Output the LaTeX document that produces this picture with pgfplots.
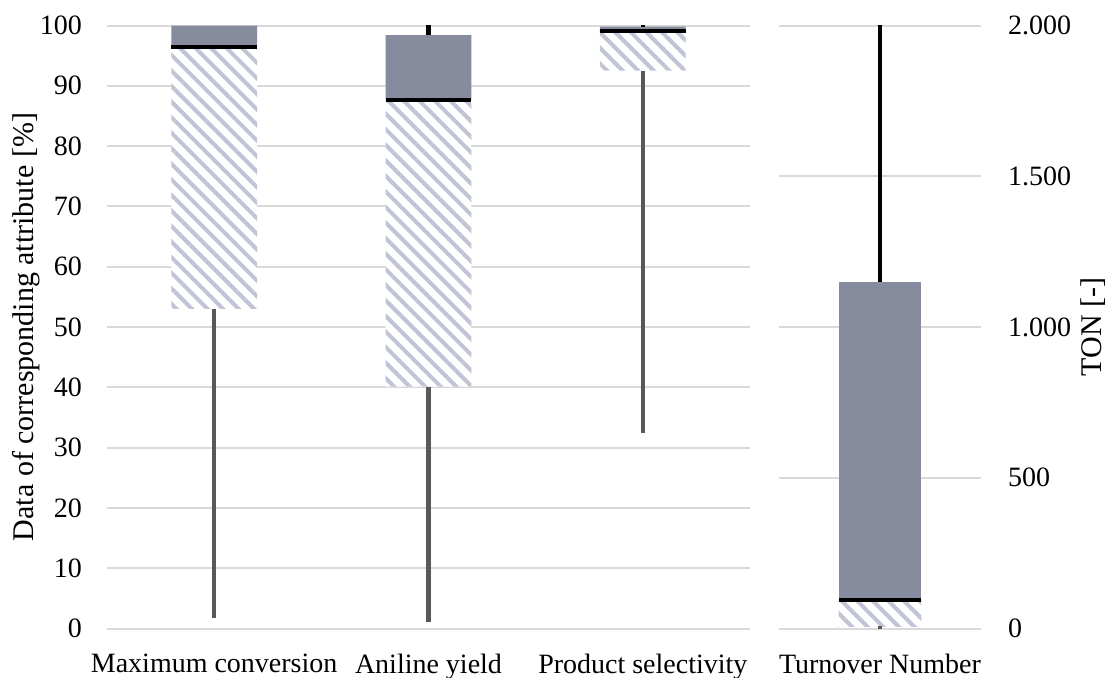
\documentclass[border=0pt]{standalone}
\usepackage{pgfplots}
\usepackage{pgfplotstable}
\pgfplotsset{compat=1.18}
\usepackage{fontspec}
\setmainfont{Liberation Serif}
\usetikzlibrary{patterns.meta}

\definecolor{boxgray}{RGB}{134,139,157}
\definecolor{hatchcol}{RGB}{192,196,213}
\definecolor{gridcol}{RGB}{217,217,217}
\definecolor{whisk}{RGB}{89,89,89}

% stacked: invisible base (0..Q1), hatched (Q1..median), grey (median..Q3)
\pgfplotstableread{
x base hatch upper
0 53.0 43.4 3.6
1 40.1 47.6 10.7
2 92.5 6.6 0.7
}\attrbars
\pgfplotstableread{
x base hatch upper
0 8 88 1054
}\tonbars

\pgfplotsset{
  panel/.style={scale only axis, anchor=south west, height=241.2pt,
    ymin=0, clip=false,
    /pgf/number format/assume math mode=true},
  frame/.style={panel, axis line style={draw=none}, ymajorgrids,
    grid style={gridcol, line width=0.8pt},
    tick style={draw=none},
    xticklabel style={yshift=-6.1pt},
    ylabel style={font=\fontsize{12}{14}\selectfont},
    ybar stacked},
  hatched/.style={draw=none, fill=white,
    postaction={pattern={Lines[angle=-45,distance=4.4pt,line width=1.6pt]}, pattern color=hatchcol}},
  greybox/.style={draw=none, fill=boxgray},
  lowwhisk/.style={whisk, line width=1.7pt, line cap=butt},
  upwhisk/.style={black, line width=1.7pt, line cap=butt},
  med/.style={black, line width=1.6pt, line cap=butt},
}

\begin{document}
\fontsize{11.2}{13.4}\selectfont
\begin{tikzpicture}
\path[use as bounding box] (0,0) rectangle (443.2pt,270.8pt);

% left panel: percentages
\begin{axis}[frame, at={(42.8pt,19.4pt)}, width=257.2pt,
    xmin=-0.5, xmax=2.5, ymax=100,
    bar width=0.4,
    xtick={0,1,2},
    xticklabels={Maximum conversion, Aniline yield, Product selectivity},
    ytick={0,10,...,100},
    yticklabel style={xshift=-6.1pt},
    ylabel={Data of corresponding attribute [\%]},
    ylabel style={at={(axis description cs:-0.125,0.5)}, anchor=center}]
  \addplot[draw=none, fill=none] table[x=x, y=base] {\attrbars};
  \addplot[hatched] table[x=x, y=hatch] {\attrbars};
  \addplot[greybox] table[x=x, y=upper] {\attrbars};
\end{axis}
\begin{axis}[panel, hide axis, at={(42.8pt,19.4pt)}, width=257.2pt,
    xmin=-0.5, xmax=2.5, ymax=100, unbounded coords=jump]
  \addplot[lowwhisk] coordinates {(0,1.7) (0,53.0) (0,nan) (1,1.0) (1,40.1) (1,nan) (2,32.5) (2,92.5)};
  \addplot[upwhisk] coordinates {(1,98.4) (1,100) (1,nan) (2,99.8) (2,100)};
  \addplot[med] coordinates {(-0.2,96.4) (0.2,96.4) (0,nan) (0.8,87.7) (1.2,87.7) (1,nan) (1.8,99.1) (2.2,99.1)};
\end{axis}

% right panel: turnover number
\begin{axis}[frame, at={(311.6pt,19.4pt)}, width=80.8pt,
    xmin=-0.5, xmax=0.5, ymax=2000,
    bar width=0.41,
    xtick={0}, xticklabels={Turnover Number},
    ytick={0,500,...,2000},
    yticklabel pos=right,
    yticklabel style={xshift=6.9pt, /pgf/number format/1000 sep={.}},
    ylabel={TON [-]},
    ylabel style={at={(axis description cs:1.554,0.5)}, anchor=center}]
  \addplot[draw=none, fill=none] table[x=x, y=base] {\tonbars};
  \addplot[hatched] table[x=x, y=hatch] {\tonbars};
  \addplot[greybox] table[x=x, y=upper] {\tonbars};
\end{axis}
\begin{axis}[panel, hide axis, at={(311.6pt,19.4pt)}, width=80.8pt,
    xmin=-0.5, xmax=0.5, ymax=2000]
  \addplot[lowwhisk] coordinates {(0,0) (0,8)};
  \addplot[upwhisk] coordinates {(0,1150) (0,2000)};
  \addplot[med] coordinates {(-0.205,96) (0.205,96)};
\end{axis}
\end{tikzpicture}
\end{document}
